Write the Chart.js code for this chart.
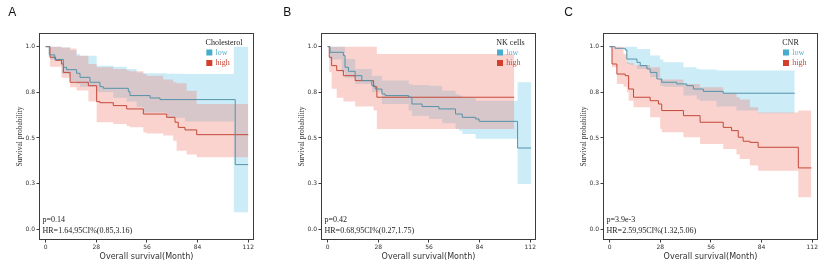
<!DOCTYPE html>
<html>
<head>
<meta charset="utf-8">
<script src="https://cdn.jsdelivr.net/npm/chart.js@4.4.1/dist/chart.umd.min.js"></script>
<style>
  body { margin: 0; background: #fff; }
  #wrap { position: relative; width: 825px; height: 267px; overflow: hidden; background: #fff; }
  canvas { position: absolute; top: 0; }
</style>
</head>
<body>
<div id="wrap">
  <canvas id="chartA" width="261" height="267" style="left:0px"></canvas>
  <canvas id="chartB" width="261" height="267" style="left:282px"></canvas>
  <canvas id="chartC" width="261" height="267" style="left:564px"></canvas>
</div>
<script>
// axis ticks
const xTicks = [0, 28, 56, 84, 112]
const yTicks = [0, 0.25, 0.5, 0.75, 1]
const groupNames = ['low', 'high']

// A - Cholesterol (time in months, survival probability)
const cholLowT = [0, 2, 5, 9.8, 11.6, 17.1, 19, 24.5, 30, 31.9, 45.7, 46.6, 57.7, 63.2, 104.8, 112]
const cholLowS = [1, 0.955, 0.93, 0.887, 0.874, 0.854, 0.832, 0.805, 0.781, 0.772, 0.755, 0.732, 0.719, 0.71, 0.354, 0.354]
const cholHighT = [0, 2.4, 5.5, 8.8, 9.8, 13.5, 23.6, 28.2, 30, 37.4, 44.8, 54, 66.9, 71.5, 73.3, 77, 83.5, 112]
const cholHighS = [1, 0.942, 0.925, 0.905, 0.859, 0.805, 0.786, 0.699, 0.693, 0.677, 0.659, 0.631, 0.613, 0.586, 0.558, 0.544, 0.518, 0.518]
const cholLowBandT = [0, 2.4, 8.8, 13.5, 17.1, 19, 28.2, 37.4, 44.8, 50.3, 54, 66.9, 77, 104, 112]
const cholLowUp = [1, 1, 0.995, 0.98, 0.96, 0.95, 0.896, 0.89, 0.878, 0.859, 0.855, 0.852, 0.85, 1, 1]
const cholLowLo = [1, 0.93, 0.85, 0.81, 0.795, 0.78, 0.75, 0.72, 0.70, 0.67, 0.64, 0.61, 0.59, 0.093, 0.093]
const cholHighBandT = [0, 2.4, 8.8, 13.5, 17.1, 23.6, 28.2, 37.4, 44.8, 46.6, 54, 55.8, 65, 70.5, 72.4, 77.9, 83.5, 112]
const cholHighUp = [1, 1, 0.995, 0.99, 0.95, 0.905, 0.887, 0.878, 0.869, 0.865, 0.85, 0.84, 0.82, 0.805, 0.8, 0.759, 0.686, 0.686]
const cholHighLo = [1, 0.89, 0.83, 0.777, 0.76, 0.70, 0.586, 0.577, 0.565, 0.558, 0.53, 0.525, 0.513, 0.485, 0.43, 0.41, 0.394, 0.394]

// B - NK cells
const nkLowT = [0, 1.3, 8.7, 9.6, 11.5, 15.2, 18.9, 24.4, 26.3, 30, 31.8, 44.8, 46.6, 52.2, 61.5, 70.7, 74.4, 81.8, 83.7, 105, 112.4]
const nkLowS = [1, 0.969, 0.951, 0.887, 0.865, 0.841, 0.814, 0.786, 0.768, 0.741, 0.732, 0.723, 0.686, 0.672, 0.659, 0.631, 0.613, 0.604, 0.591, 0.445, 0.445]
const nkHighT = [0, 0.9, 2.2, 5, 8.7, 15.2, 25.4, 27.2, 103.1]
const nkHighS = [1, 0.942, 0.896, 0.869, 0.841, 0.814, 0.781, 0.723, 0.723]
const nkLowBandT = [0, 1.3, 7.8, 9.6, 15.2, 24.4, 30, 44.8, 46.6, 55.9, 63.3, 70.7, 72.6, 74.4, 81.8, 105, 112.4]
const nkLowUp = [1, 1, 1, 0.932, 0.878, 0.841, 0.814, 0.796, 0.79, 0.786, 0.759, 0.74, 0.732, 0.72, 0.704, 0.805, 0.805]
const nkLowLo = [1, 0.93, 0.86, 0.83, 0.796, 0.75, 0.686, 0.65, 0.622, 0.604, 0.58, 0.549, 0.54, 0.522, 0.495, 0.248, 0.248]
const nkHighBandT = [0, 0.9, 2.2, 5, 8.7, 15.2, 25.4, 27.2, 103.1]
const nkHighUp = [1, 1, 1, 1, 1, 1, 1, 0.96, 0.96]
const nkHighLo = [1, 0.86, 0.77, 0.72, 0.70, 0.672, 0.65, 0.549, 0.549]

// C - CNR
const cnrLowT = [0, 3, 8.6, 9.5, 15.1, 16.9, 20.6, 22.4, 26.1, 28.8, 37.1, 42.6, 46.3, 51.8, 62.8, 102.3]
const cnrLowS = [1, 0.991, 0.982, 0.932, 0.914, 0.896, 0.878, 0.859, 0.823, 0.805, 0.796, 0.786, 0.768, 0.755, 0.745, 0.745]
const cnrHighT = [0, 1.3, 4, 8.6, 10.5, 13.2, 22.4, 27, 28.8, 40.8, 50, 62.8, 67.4, 71.1, 73.8, 77.5, 82.1, 104.3, 111.5]
const cnrHighS = [1, 0.905, 0.85, 0.841, 0.768, 0.723, 0.704, 0.686, 0.65, 0.622, 0.586, 0.558, 0.54, 0.504, 0.482, 0.476, 0.449, 0.336, 0.336]
const cnrLowBandT = [0, 8.6, 9.5, 11.4, 15.1, 22.4, 27.9, 29.7, 40.8, 48.1, 50, 59.1, 70.1, 82.1, 102.3]
const cnrLowUp = [1, 1, 1, 1, 0.987, 0.951, 0.93, 0.914, 0.887, 0.878, 0.875, 0.869, 0.869, 0.869, 0.869]
const cnrLowLo = [1, 0.978, 0.905, 0.9, 0.878, 0.832, 0.786, 0.78, 0.732, 0.71, 0.704, 0.672, 0.65, 0.635, 0.635]
const cnrHighBandT = [0, 1.3, 4, 7.7, 9.5, 10.5, 13.2, 22.4, 27.9, 28.8, 40.8, 50, 62.8, 70.1, 71.9, 77.5, 82.1, 104.3, 111.5]
const cnrHighUp = [1, 1, 1, 0.96, 0.914, 0.91, 0.9, 0.887, 0.823, 0.82, 0.796, 0.777, 0.745, 0.723, 0.71, 0.668, 0.64, 0.65, 0.65]
const cnrHighLo = [1, 0.887, 0.796, 0.78, 0.75, 0.704, 0.668, 0.613, 0.55, 0.531, 0.504, 0.467, 0.44, 0.41, 0.385, 0.349, 0.321, 0.175, 0.175]

// colours: low, high
const lineColors = ['rgb(84,146,170)', 'rgb(196,72,56)']
const bandColors = ['rgba(100,200,230,0.33)', 'rgba(240,110,95,0.3)']
const squareColors = ['rgb(72,172,204)', 'rgb(212,62,44)']
const legendTextColors = ['rgb(90,175,205)', 'rgb(200,70,55)']

const pts = (t, s) => t.map((v, i) => ({ x: v, y: s[i] }))

const line = (t, s, color) => ({
  data: pts(t, s), borderColor: color, borderWidth: 1, stepped: true,
  pointRadius: 0, fill: false
})
const edge = (t, s, color, fill) => ({
  data: pts(t, s), borderColor: 'rgba(0,0,0,0)', borderWidth: 0, stepped: true,
  pointRadius: 0, backgroundColor: color, fill: fill
})

// frame, panel letter, legend and stats text
const panelText = {
  id: 'panelText',
  afterDraw(chart, args, opts) {
    const { ctx, chartArea: a } = chart
    ctx.save()
    ctx.strokeStyle = '#3c3c3c'
    ctx.lineWidth = 1
    ctx.strokeRect(a.left, a.top, a.right - a.left, a.bottom - a.top)

    ctx.fillStyle = '#111'
    ctx.font = '12px "Liberation Sans"'
    ctx.textAlign = 'left'
    ctx.textBaseline = 'alphabetic'
    ctx.fillText(opts.letter, opts.letterX, 15.7)

    ctx.font = '8px "Liberation Serif"'
    ctx.textBaseline = 'middle'
    const titleW = ctx.measureText(opts.legendTitle).width
    const boxW = Math.max(titleW, 10 + ctx.measureText('high').width)
    const x0 = a.right - 11 - boxW
    ctx.fillStyle = '#222'
    ctx.fillText(opts.legendTitle, x0, a.top + 9.2)
    groupNames.forEach((g, i) => {
      const cy = a.top + 19 + i * 10.5
      ctx.fillStyle = squareColors[i]
      ctx.fillRect(x0 + 0.7, cy - 3, 6, 6)
      ctx.fillStyle = legendTextColors[i]
      ctx.fillText(g, x0 + 10, cy)
    })

    ctx.fillStyle = '#222'
    ctx.fillText(opts.p, a.left + 3, a.bottom - 19.3)
    ctx.fillText(opts.hr, a.left + 3, a.bottom - 8.3)
    ctx.restore()
  }
}

function makePanel(id, text, low, high) {
  return new Chart(document.getElementById(id), {
    type: 'line',
    data: {
      datasets: [
        line(low.t, low.s, lineColors[0]),
        line(high.t, high.s, lineColors[1]),
        edge(high.bt, high.up, bandColors[1], '+1'),
        edge(high.bt, high.lo, bandColors[1], false),
        edge(low.bt, low.up, bandColors[0], '+1'),
        edge(low.bt, low.lo, bandColors[0], false)
      ]
    },
    options: {
      responsive: false,
      animation: false,
      layout: { padding: { left: 0, top: 33.5, right: 7.5, bottom: 0 } },
      scales: {
        x: {
          type: 'linear', min: -3.4, max: 114.9,
          afterFit: s => { s.height = 27.5 },
          afterBuildTicks: s => { s.ticks = xTicks.map(v => ({ value: v })) },
          border: { display: false },
          grid: { display: true, drawOnChartArea: false, drawTicks: true, tickLength: 3, color: '#3c3c3c' },
          ticks: { font: { family: 'DejaVu Sans', size: 6 }, color: '#333', padding: 1, maxRotation: 0 },
          title: { display: true, text: 'Overall survival(Month)', color: '#333',
            font: { family: 'DejaVu Sans', size: 8 }, padding: { top: 0, bottom: 5.5 } }
        },
        y: {
          type: 'linear', min: -0.056, max: 1.072,
          afterFit: s => { s.width = 39.5 },
          afterBuildTicks: s => { s.ticks = yTicks.map(v => ({ value: v })) },
          border: { display: false },
          grid: { display: true, drawOnChartArea: false, drawTicks: true, tickLength: 3, color: '#3c3c3c' },
          ticks: { font: { family: 'DejaVu Sans', size: 6 }, color: '#333', padding: 1.5,
            callback: v => v.toFixed(1) },
          title: { display: true, text: 'Survival probability', color: '#333',
            font: { family: 'Liberation Serif', size: 7.5 }, padding: { top: 16, bottom: 0 } }
        }
      },
      plugins: {
        legend: { display: false },
        tooltip: { enabled: false },
        panelText: text
      }
    },
    plugins: [panelText]
  })
}

makePanel('chartA',
  { letter: 'A', letterX: 8.3, legendTitle: 'Cholesterol', p: 'p=0.14', hr: 'HR=1.64,95CI%(0.85,3.16)' },
  { t: cholLowT, s: cholLowS, bt: cholLowBandT, up: cholLowUp, lo: cholLowLo },
  { t: cholHighT, s: cholHighS, bt: cholHighBandT, up: cholHighUp, lo: cholHighLo })

makePanel('chartB',
  { letter: 'B', letterX: 1.3, legendTitle: 'NK cells', p: 'p=0.42', hr: 'HR=0.68,95CI%(0.27,1.75)' },
  { t: nkLowT, s: nkLowS, bt: nkLowBandT, up: nkLowUp, lo: nkLowLo },
  { t: nkHighT, s: nkHighS, bt: nkHighBandT, up: nkHighUp, lo: nkHighLo })

makePanel('chartC',
  { letter: 'C', letterX: 0.3, legendTitle: 'CNR', p: 'p=3.9e-3', hr: 'HR=2.59,95CI%(1.32,5.06)' },
  { t: cnrLowT, s: cnrLowS, bt: cnrLowBandT, up: cnrLowUp, lo: cnrLowLo },
  { t: cnrHighT, s: cnrHighS, bt: cnrHighBandT, up: cnrHighUp, lo: cnrHighLo })
</script>
</body>
</html>
